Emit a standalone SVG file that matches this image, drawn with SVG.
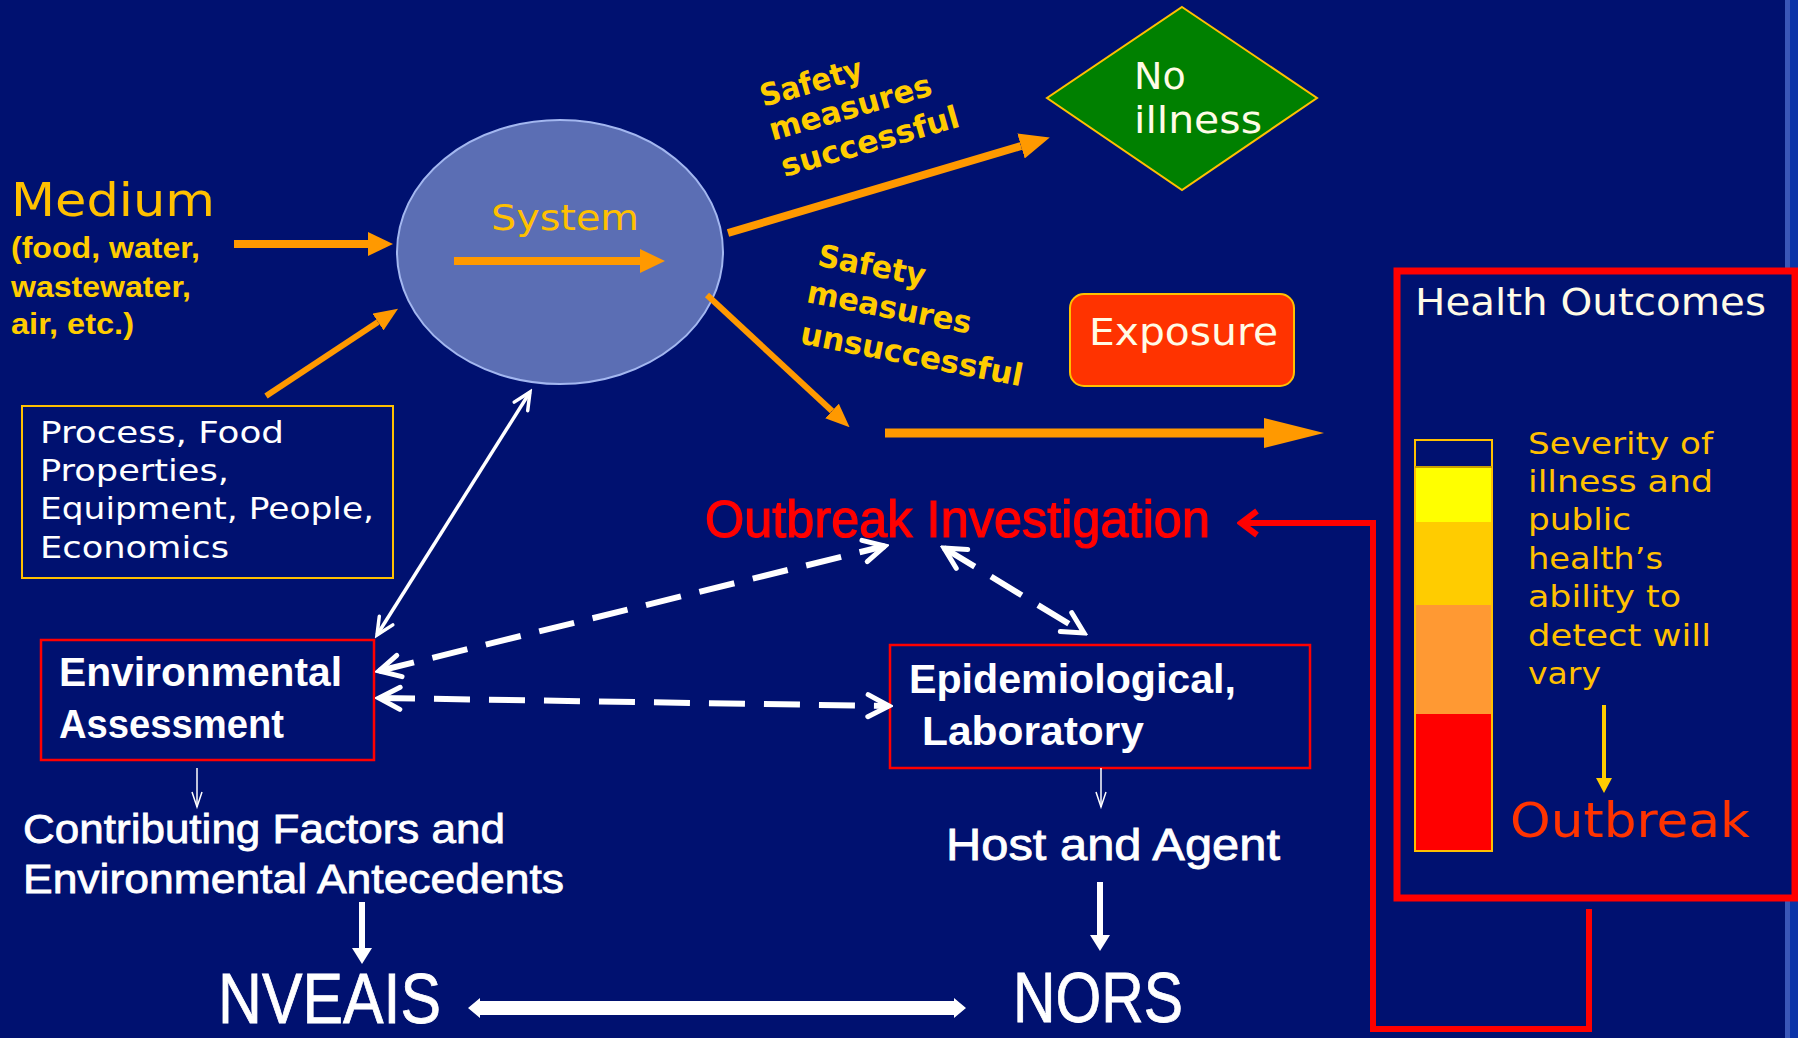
<svg xmlns="http://www.w3.org/2000/svg" width="1798" height="1038" viewBox="0 0 1798 1038">
<style>
.bg{fill:#001170}
.gold{fill:#FFCC00}
.verd{font-family:"DejaVu Sans","Verdana",sans-serif}
.arial{font-family:"Liberation Sans",Arial,sans-serif}
.bold{font-weight:bold}
.wht{fill:#FFFFFF}
.cream{fill:#FFFBE6}
.oarr{stroke:#FF9900;fill:none}
.wline{stroke:#FFFFFF;fill:none}
.dash{stroke:#FFFFFF;fill:none;stroke-width:6;stroke-dasharray:36 19}
.rbox{fill:#001170;stroke:#FF0000;stroke-width:2.5}
</style>
<defs>
<marker id="oh" markerUnits="userSpaceOnUse" markerWidth="25" markerHeight="24" viewBox="0 0 25 24" refX="0" refY="12" orient="auto"><path d="M0,0 L25,12 L0,24 Z" fill="#FF9900"/></marker>
<marker id="ohs" markerUnits="userSpaceOnUse" markerWidth="24" markerHeight="20" viewBox="0 0 24 20" refX="0" refY="10" orient="auto"><path d="M0,0 L24,10 L0,20 Z" fill="#FF9900"/></marker>
<marker id="ohm" markerUnits="userSpaceOnUse" markerWidth="30" markerHeight="26" viewBox="0 0 30 26" refX="0" refY="13" orient="auto"><path d="M0,0 L30,13 L0,26 Z" fill="#FF9900"/></marker>
<marker id="ohb" markerUnits="userSpaceOnUse" markerWidth="60" markerHeight="30" viewBox="0 0 60 30" refX="0" refY="15" orient="auto"><path d="M0,0 L60,15 L0,30 Z" fill="#FF9900"/></marker>
<marker id="wv" markerUnits="userSpaceOnUse" markerWidth="30" markerHeight="30" viewBox="-26 -15 30 30" refX="0" refY="0" orient="auto-start-reverse"><path d="M-21,-11 L0,0 L-21,11" fill="none" stroke="#FFFFFF" stroke-width="5" stroke-linecap="round" stroke-linejoin="miter"/></marker>
<marker id="wvs" markerUnits="userSpaceOnUse" markerWidth="24" markerHeight="24" viewBox="-20 -12 24 24" refX="0" refY="0" orient="auto-start-reverse"><path d="M-17,-8 L0,0 L-17,8" fill="none" stroke="#FFFFFF" stroke-width="3.5" stroke-linecap="round"/></marker>
<marker id="wvt" markerUnits="userSpaceOnUse" markerWidth="20" markerHeight="14" viewBox="-17 -7 20 14" refX="0" refY="0" orient="auto"><path d="M-15,-5 L0,0 L-15,5" fill="none" stroke="#FFFFFF" stroke-width="1.5"/></marker>
<marker id="wf" markerUnits="userSpaceOnUse" markerWidth="16" markerHeight="20" viewBox="0 0 16 20" refX="0" refY="10" orient="auto"><path d="M0,0 L16,10 L0,20 Z" fill="#FFFFFF"/></marker>
<marker id="yf" markerUnits="userSpaceOnUse" markerWidth="15" markerHeight="16" viewBox="0 0 15 16" refX="0" refY="8" orient="auto"><path d="M0,0 L15,8 L0,16 Z" fill="#FFCC00"/></marker>
<marker id="rv" markerUnits="userSpaceOnUse" markerWidth="26" markerHeight="32" viewBox="-22 -16 26 32" refX="0" refY="0" orient="auto"><path d="M-16,-12 L0,0 L-16,12" fill="none" stroke="#FF0000" stroke-width="6"/></marker>
</defs>

<rect class="bg" x="0" y="0" width="1798" height="1038"/>
<rect x="1785" y="0" width="5" height="1038" fill="#3A56B8"/>
<rect x="1790" y="0" width="8" height="1038" fill="#0A33A8"/>

<g id="medium">
<text class="verd" x="11" y="216" font-size="47" fill="#FFC000" textLength="204" lengthAdjust="spacingAndGlyphs">Medium</text>
<text class="arial bold gold" x="11" y="258" font-size="30" textLength="189" lengthAdjust="spacingAndGlyphs">(food, water,</text>
<text class="arial bold gold" x="11" y="297" font-size="30" textLength="180" lengthAdjust="spacingAndGlyphs">wastewater,</text>
<text class="arial bold gold" x="11" y="334" font-size="30" textLength="123" lengthAdjust="spacingAndGlyphs">air, etc.)</text>
</g>

<g id="system">
<ellipse cx="560" cy="252" rx="163" ry="132" fill="#5B6EB4" stroke="#A3B7F0" stroke-width="2"/>
<text class="verd" x="491" y="230" font-size="35" fill="#FFC000" textLength="148" lengthAdjust="spacingAndGlyphs">System</text>
</g>

<g id="process">
<rect x="22" y="406" width="371" height="172" fill="#001170" stroke="#FFC000" stroke-width="2"/>
<text class="verd wht" x="40" y="443" font-size="30" textLength="244" lengthAdjust="spacingAndGlyphs">Process, Food</text>
<text class="verd wht" x="40" y="481" font-size="30" textLength="189" lengthAdjust="spacingAndGlyphs">Properties,</text>
<text class="verd wht" x="40" y="519" font-size="30" textLength="334" lengthAdjust="spacingAndGlyphs">Equipment, People,</text>
<text class="verd wht" x="40" y="558" font-size="30" textLength="189" lengthAdjust="spacingAndGlyphs">Economics</text>
</g>

<g id="no-illness">
<polygon points="1182,7 1317,98 1182,190 1047,98" fill="#008000" stroke="#FFC000" stroke-width="2"/>
<text class="verd cream" x="1134" y="89" font-size="38">No</text>
<text class="verd cream" x="1134" y="133" font-size="38" textLength="128" lengthAdjust="spacingAndGlyphs">illness</text>
</g>

<g id="exposure">
<rect x="1070" y="294" width="224" height="92" rx="14" ry="14" fill="#FF3300" stroke="#FFC000" stroke-width="2"/>
<text class="verd cream" x="1089" y="345" font-size="38" textLength="189" lengthAdjust="spacingAndGlyphs">Exposure</text>
</g>

<g id="safety-success" class="verd bold gold" font-size="31" text-anchor="middle">
<text transform="translate(811,82) rotate(-16)" y="11" textLength="105" lengthAdjust="spacingAndGlyphs">Safety</text>
<text transform="translate(851,110) rotate(-16)" y="8" textLength="168" lengthAdjust="spacingAndGlyphs">measures</text>
<text transform="translate(870,141) rotate(-16)" y="11" textLength="184" lengthAdjust="spacingAndGlyphs">successful</text>
</g>

<g id="safety-unsuccess" class="verd bold gold" font-size="31" text-anchor="middle">
<text transform="translate(872,265) rotate(11)" y="11" textLength="109" lengthAdjust="spacingAndGlyphs">Safety</text>
<text transform="translate(889,310) rotate(11)" y="8" textLength="167" lengthAdjust="spacingAndGlyphs">measures</text>
<text transform="translate(912,354) rotate(11)" y="11" textLength="226" lengthAdjust="spacingAndGlyphs">unsuccessful</text>
</g>

<g id="health-outcomes">
<rect x="1397" y="271" width="398" height="627" fill="#001170" stroke="#FF0000" stroke-width="7"/>
<text class="verd cream" x="1415" y="315" font-size="38" textLength="351" lengthAdjust="spacingAndGlyphs">Health Outcomes</text>
<rect x="1415" y="440" width="77" height="27" fill="#001170"/>
<rect x="1415" y="467" width="77" height="55" fill="#FFFF00"/>
<rect x="1415" y="522" width="77" height="83" fill="#FFCC00"/>
<rect x="1415" y="605" width="77" height="109" fill="#FF9933"/>
<rect x="1415" y="714" width="77" height="137" fill="#FF0000"/>
<rect x="1415" y="440" width="77" height="411" fill="none" stroke="#FFC000" stroke-width="2"/>
<line x1="1415" y1="467" x2="1492" y2="467" stroke="#C9A000" stroke-width="2"/>
<g class="verd" font-size="31" fill="#FFC000">
<text x="1528" y="454" textLength="185" lengthAdjust="spacingAndGlyphs">Severity of</text>
<text x="1528" y="492" textLength="185" lengthAdjust="spacingAndGlyphs">illness and</text>
<text x="1528" y="530" textLength="103" lengthAdjust="spacingAndGlyphs">public</text>
<text x="1528" y="569" textLength="135" lengthAdjust="spacingAndGlyphs">health’s</text>
<text x="1528" y="607" textLength="153" lengthAdjust="spacingAndGlyphs">ability to</text>
<text x="1528" y="646" textLength="183" lengthAdjust="spacingAndGlyphs">detect will</text>
<text x="1528" y="684" textLength="73" lengthAdjust="spacingAndGlyphs">vary</text>
</g>
<line x1="1604" y1="705" x2="1604" y2="778" stroke="#FFCC00" stroke-width="4" marker-end="url(#yf)"/>
<text class="verd" x="1510" y="837" font-size="48" fill="#FF3300" textLength="240" lengthAdjust="spacingAndGlyphs">Outbreak</text>
</g>

<g id="outbreak-investigation">
<text class="arial" x="705" y="537" font-size="51" fill="#FF0000" stroke="#FF0000" stroke-width="1.2" textLength="505" lengthAdjust="spacingAndGlyphs">Outbreak Investigation</text>
</g>

<g id="environmental-assessment">
<rect class="rbox" x="41" y="640" width="333" height="120"/>
<text class="arial bold wht" x="59" y="686" font-size="40" textLength="283" lengthAdjust="spacingAndGlyphs">Environmental</text>
<text class="arial bold wht" x="59" y="738" font-size="40" textLength="225" lengthAdjust="spacingAndGlyphs">Assessment</text>
</g>

<g id="epi-lab">
<rect class="rbox" x="890" y="645" width="420" height="123"/>
<text class="arial bold wht" x="909" y="693" font-size="40" textLength="327" lengthAdjust="spacingAndGlyphs">Epidemiological,</text>
<text class="arial bold wht" x="922" y="745" font-size="40" textLength="222" lengthAdjust="spacingAndGlyphs">Laboratory</text>
</g>

<g id="contributing">
<text class="arial wht" x="23" y="843" font-size="41" stroke="#FFFFFF" stroke-width="0.8" textLength="482" lengthAdjust="spacingAndGlyphs">Contributing Factors and</text>
<text class="arial wht" x="23" y="893" font-size="41" stroke="#FFFFFF" stroke-width="0.8" textLength="541" lengthAdjust="spacingAndGlyphs">Environmental Antecedents</text>
</g>

<g id="host-agent">
<text class="arial wht" x="946" y="860" font-size="45" stroke="#FFFFFF" stroke-width="0.8" textLength="334" lengthAdjust="spacingAndGlyphs">Host and Agent</text>
</g>

<g id="nveais">
<text class="arial wht" x="218" y="1023" font-size="70" stroke="#FFFFFF" stroke-width="0.8" textLength="223" lengthAdjust="spacingAndGlyphs">NVEAIS</text>
</g>

<g id="nors">
<text class="arial wht" x="1013" y="1022" font-size="70" stroke="#FFFFFF" stroke-width="0.8" textLength="170" lengthAdjust="spacingAndGlyphs">NORS</text>
</g>

<g id="connectors">
<line class="oarr" x1="234" y1="244" x2="368" y2="244" stroke-width="8" marker-end="url(#oh)"/>
<line class="oarr" x1="454" y1="261" x2="640" y2="261" stroke-width="8" marker-end="url(#oh)"/>
<line class="oarr" x1="266" y1="396" x2="378" y2="322" stroke-width="6" marker-end="url(#ohs)"/>
<line class="oarr" x1="728" y1="233" x2="1021" y2="146" stroke-width="8" marker-end="url(#ohm)"/>
<line class="oarr" x1="707" y1="295" x2="832" y2="411" stroke-width="6" marker-end="url(#ohs)"/>
<line class="oarr" x1="885" y1="433" x2="1264" y2="433" stroke-width="9" marker-end="url(#ohb)"/>

<line class="wline" x1="530" y1="392" x2="377" y2="635" stroke-width="3.5" marker-start="url(#wvs)" marker-end="url(#wvs)"/>
<line class="dash" x1="379" y1="671" x2="885" y2="546" marker-start="url(#wv)" marker-end="url(#wv)"/>
<line class="dash" x1="379" y1="698" x2="889" y2="706" marker-start="url(#wv)" marker-end="url(#wv)"/>
<line class="dash" x1="944" y1="548" x2="1084" y2="633" marker-start="url(#wv)" marker-end="url(#wv)"/>

<line class="wline" x1="197" y1="768" x2="197" y2="807" stroke-width="1.5" marker-end="url(#wvt)"/>
<line class="wline" x1="1101" y1="768" x2="1101" y2="807" stroke-width="1.5" marker-end="url(#wvt)"/>

<line class="wline" x1="362" y1="902" x2="362" y2="948" stroke-width="6" marker-end="url(#wf)"/>
<line class="wline" x1="1100" y1="882" x2="1100" y2="935" stroke-width="6" marker-end="url(#wf)"/>

<path d="M468,1008 L480,998 L480,1001 L954,1001 L954,998 L966,1008 L954,1018 L954,1015 L480,1015 L480,1018 Z" fill="#FFFFFF"/>

<polyline points="1589,909 1589,1029 1373,1029 1373,523 1241,523" fill="none" stroke="#FF0000" stroke-width="6" marker-end="url(#rv)"/>
</g>
</svg>
